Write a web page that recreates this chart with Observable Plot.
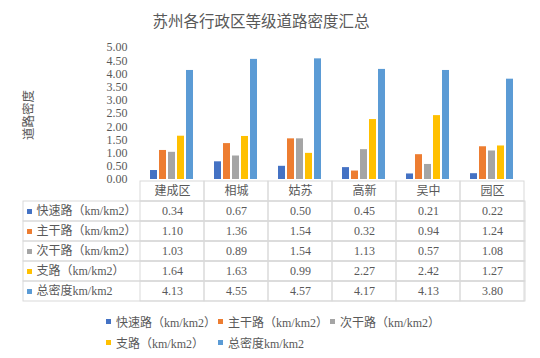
<!DOCTYPE html>
<html><head><meta charset="utf-8">
<script src="https://cdn.jsdelivr.net/npm/d3@7"></script>
<script src="https://cdn.jsdelivr.net/npm/@observablehq/plot@0.6"></script>
<style>
body{margin:0;background:#fff;}
#root{position:relative;width:540px;height:358px;overflow:hidden;font-family:"Liberation Serif","Times New Roman","Noto Sans CJK SC",serif;color:#595959;}
#title{height:40px;line-height:40px;font-family:"Noto Sans CJK SC",sans-serif;font-size:15.5px;color:#595959;padding-right:18px;text-align:center;}
#ylabel{position:absolute;left:27px;top:115px;transform:translate(-50%,-50%) rotate(-90deg);font-family:"Noto Sans CJK SC",sans-serif;font-size:12.5px;color:#595959;white-space:nowrap;}
svg{display:block;overflow:visible;}
#legend{position:absolute;left:106px;top:311px;width:340px;display:flex;flex-wrap:wrap;font-size:12px;color:#595959;}
.item{width:112px;height:21px;display:flex;align-items:center;white-space:nowrap;}
.sw{width:5px;height:5px;margin-right:5px;flex:none;}
</style></head>
<body><div id="root"><div id="title">苏州各行政区等级道路密度汇总</div><div id="ylabel"></div><div id="chart"></div><div id="table"></div><div id="legend"></div></div>
<script>
const categories = ["建成区","相城","姑苏","高新","吴中","园区"];
const seriesNames = ["快速路（km/km2）","主干路（km/km2）","次干路（km/km2）","支路（km/km2）","总密度km/km2"];
const seriesColors = ["#4472C4","#ED7D31","#A5A5A5","#FFC000","#5B9BD5"];
const expressway = [0.34,0.67,0.50,0.45,0.21,0.22];
const arterial   = [1.10,1.36,1.54,0.32,0.94,1.24];
const secondary  = [1.03,0.89,1.54,1.13,0.57,1.08];
const branch     = [1.64,1.63,0.99,2.27,2.42,1.27];
const total      = [4.13,4.55,4.57,4.17,4.13,3.80];
const yTicks = [0,0.5,1,1.5,2,2.5,3,3.5,4,4.5,5];
const yLabel = "道路密度";

const seriesValues = [expressway, arterial, secondary, branch, total];
const rows = seriesNames.flatMap((s,si)=>categories.map((c,ci)=>({series:s, category:c, value:seriesValues[si][ci]})));
const tableRows = ["header", ...seriesNames];
const gridCells = tableRows.flatMap(r=>categories.map(c=>({r,c})));
const font = '"Liberation Serif","Times New Roman","Noto Sans CJK SC",serif';
const baseStyle = {overflow:"visible", fontFamily:font, fontSize:"12px", color:"#595959", background:"transparent"};

document.getElementById("ylabel").textContent = yLabel;

const chart = Plot.plot({
  width:540, height:139, marginTop:7, marginBottom:0, marginLeft:138, marginRight:15,
  style: baseStyle,
  fx:{domain:categories, padding:0, axis:null},
  x:{domain:seriesNames, paddingInner:0.2, paddingOuter:0.85, axis:null},
  y:{domain:[0,5], ticks:yTicks, tickFormat:d=>d.toFixed(2), tickSize:0, tickPadding:13, label:null},
  color:{domain:seriesNames, range:seriesColors},
  marks:[
    Plot.barY(rows,{fx:"category", x:"series", y:"value", fill:"series"})
  ]
});
document.getElementById("chart").appendChild(chart);

const table = Plot.plot({
  width:540, height:125, marginTop:0, marginBottom:1, marginLeft:138, marginRight:15,
  style: baseStyle,
  x:{domain:categories, padding:0, axis:null},
  y:{domain:tableRows, padding:0, axis:null},
  color:{domain:seriesNames, range:seriesColors},
  marks:[
    Plot.cell(gridCells,{x:"c", y:"r", fill:"none", stroke:"#d9d9d9"}),
    Plot.cell(seriesNames,{y:d=>d, insetLeft:-115, fill:"none", stroke:"#d9d9d9"}),
    Plot.text(categories,{x:d=>d, y:()=> "header", text:d=>d, fontSize:12}),
    Plot.text(rows,{x:"category", y:"series", text:d=>d.value.toFixed(2), fontSize:12}),
    Plot.dot(seriesNames,{y:d=>d, frameAnchor:"left", dx:-109, symbol:"square", r:2.8, fill:d=>d}),
    Plot.text(seriesNames,{y:d=>d, text:d=>d, frameAnchor:"left", dx:-102, textAnchor:"start", fontSize:12})
  ]
});
document.getElementById("table").appendChild(table);

const legend = document.getElementById("legend");
seriesNames.forEach((s,i)=>{
  const it = document.createElement("div"); it.className="item";
  const sw = document.createElement("span"); sw.className="sw"; sw.style.background=seriesColors[i];
  const t = document.createElement("span"); t.textContent=s;
  it.appendChild(sw); it.appendChild(t); legend.appendChild(it);
});
</script></body></html>
